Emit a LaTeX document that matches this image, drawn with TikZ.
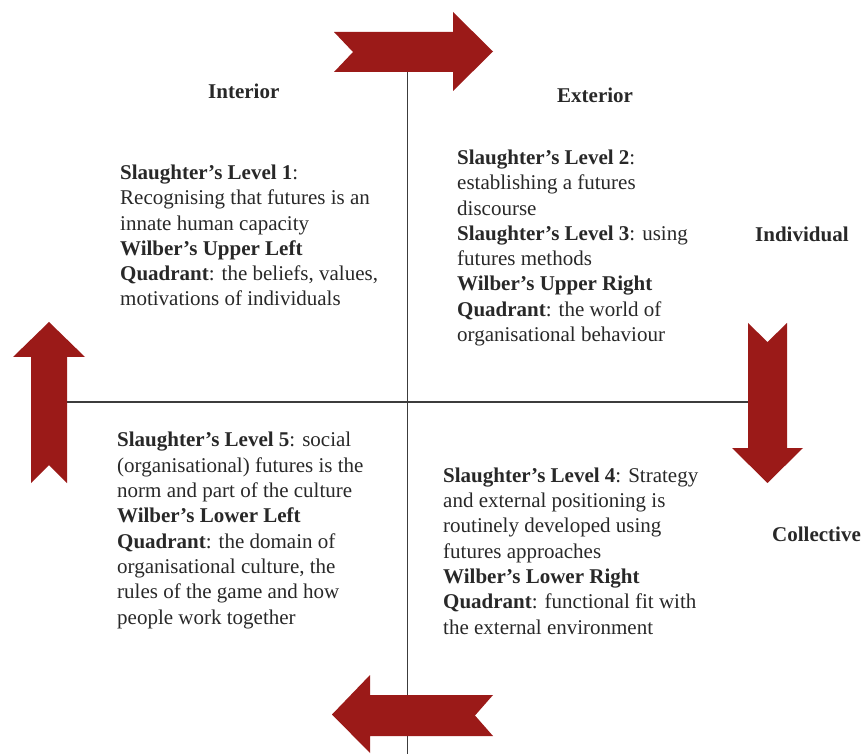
\documentclass[tikz,border=0pt]{standalone}
\usepackage{fontspec}
\setmainfont{Liberation Serif}
\definecolor{arrowred}{RGB}{155,26,24}
\definecolor{axisgray}{RGB}{60,60,60}
\definecolor{txt}{RGB}{40,40,40}
\begin{document}
\begin{tikzpicture}[x=1pt,y=-1pt,
  block/.style={anchor=base west,inner sep=0pt,align=left,text=txt,
    font=\fontsize{21}{25.3}\selectfont},
  lbl/.style={anchor=base west,inner sep=0pt,text=txt,
    font=\fontsize{21}{25.3}\selectfont\bfseries},
  axis/.style={draw=axisgray,line width=1.4pt},
  bigarrow/.style={fill=arrowred,draw=none}]
\useasboundingbox (0,0) rectangle (863,754);
% axes
\coordinate (vtop) at (407.5,60);
\coordinate (vbot) at (407.5,754);
\coordinate (hleft) at (60,402);
\coordinate (hright) at (760,402);
\draw[axis] (vtop) -- (vbot);
\draw[axis] (hleft) -- (hright);
% arrows
\fill[bigarrow] (334,32) -- (453,32) -- (453,12) -- (493,51.5) -- (453,91) -- (453,72) -- (334,72) -- (353,52) -- cycle;
\fill[bigarrow] (31,483) -- (31,357) -- (13,357) -- (49,322) -- (85,357) -- (67,357) -- (67,483) -- (49,465) -- cycle;
\fill[bigarrow] (748,323) -- (767.5,342) -- (787,323) -- (787,448) -- (803,448) -- (767.5,483) -- (732,448) -- (748,448) -- cycle;
\fill[bigarrow] (493,695) -- (475,715.5) -- (493,736) -- (370,736) -- (370,753) -- (332,714.5) -- (370,675) -- (370,695) -- cycle;
% labels
\node[lbl] (interior) at (208,98.5) {Interior};
\node[lbl] (exterior) at (557,103) {Exterior};
\node[lbl] (individual) at (755,242) {Individual};
\node[lbl] (collective) at (772,541) {Collective};
% quadrant texts (anchored at the baseline of the last line)
\node[block] (ul) at (120,306) {\textbf{Slaughter’s Level 1}:\\
Recognising that futures is an\\
innate human capacity\\
\textbf{Wilber’s Upper Left}\\
\textbf{Quadrant}: the beliefs, values,\\
motivations of individuals};
\node[block] (ur) at (457,341.5) {\textbf{Slaughter’s Level 2}:\\
establishing a futures\\
discourse\\
\textbf{Slaughter’s Level 3}: using\\
futures methods\\
\textbf{Wilber’s Upper Right}\\
\textbf{Quadrant}: the world of\\
organisational behaviour};
\node[block] (ll) at (117,624) {\textbf{Slaughter’s Level 5}: social\\
(organisational) futures is the\\
norm and part of the culture\\
\textbf{Wilber’s Lower Left}\\
\textbf{Quadrant}: the domain of\\
organisational culture, the\\
rules of the game and how\\
people work together};
\node[block] (lr) at (443,634) {\textbf{Slaughter’s Level 4}: Strategy\\
and external positioning is\\
routinely developed using\\
futures approaches\\
\textbf{Wilber’s Lower Right}\\
\textbf{Quadrant}: functional fit with\\
the external environment};
\end{tikzpicture}
\end{document}
